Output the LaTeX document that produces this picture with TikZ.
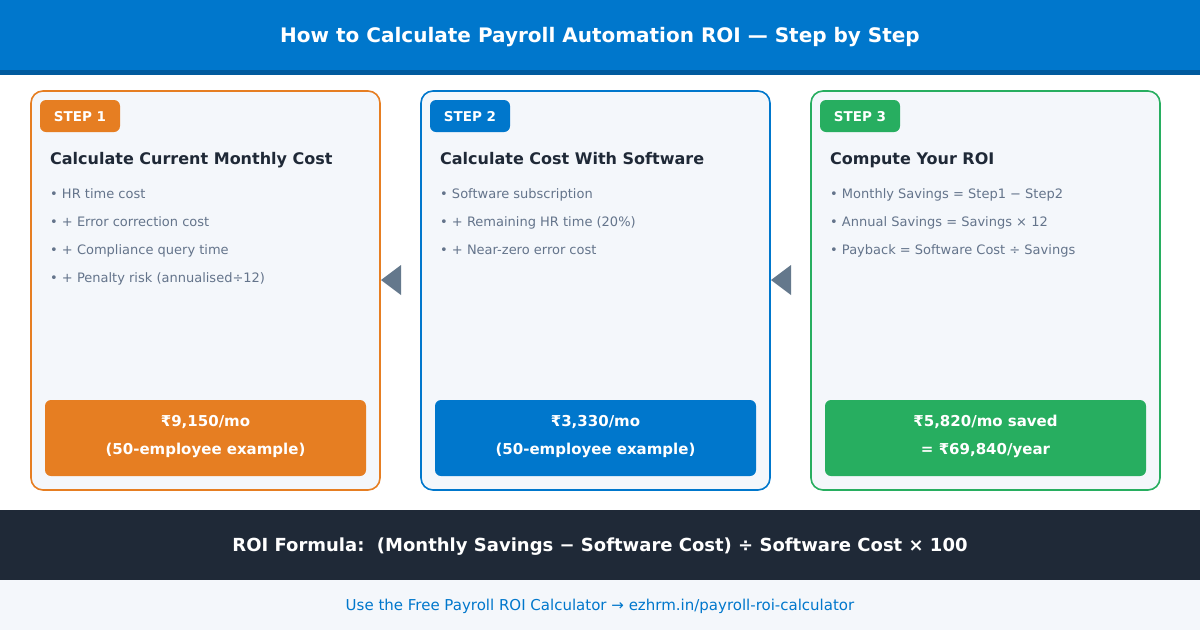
\documentclass[tikz,border=0pt]{standalone}
\usepackage{fontspec}
\setmainfont{DejaVu Sans}
\definecolor{hdrblue}{HTML}{0077CC}
\definecolor{hdrdark}{HTML}{005A9E}
\definecolor{orangec}{HTML}{E67E22}
\definecolor{greenc}{HTML}{27AE60}
\definecolor{cardfill}{HTML}{F4F7FB}
\definecolor{darktxt}{HTML}{1F2937}
\definecolor{graytxt}{HTML}{64748B}
\definecolor{arrowc}{HTML}{64788C}
\definecolor{footdark}{HTML}{1F2937}
\definecolor{footlight}{HTML}{F4F7FB}
\newcommand{\fsz}[1]{\fontsize{#1}{#1}\selectfont}
\tikzset{
  card/.style={draw=#1, line width=1.6pt, fill=cardfill, rounded corners=12pt, minimum width=349pt, minimum height=399pt, inner sep=0pt},
  badge/.style={fill=#1, rounded corners=6pt, minimum width=80pt, minimum height=32pt, inner sep=0pt},
  badgetxt/.style={anchor=base, inner sep=0pt, text=white, font=\fsz{13.5}\bfseries},
  ctitle/.style={anchor=base west, inner sep=0pt, text=darktxt, font=\fsz{16}\bfseries},
  bullet/.style={anchor=base west, inner sep=0pt, text=graytxt, font=\fsz{13}},
  result/.style={fill=#1, rounded corners=6pt, minimum width=321pt, minimum height=76pt, inner sep=0pt},
  restxt/.style={anchor=base, inner sep=0pt, text=white, font=\fsz{15}\bfseries},
  tri/.style={fill=arrowc, draw=none}
}
\begin{document}
\begin{tikzpicture}[x=1pt,y=-1pt]
\useasboundingbox (0,0) rectangle (1200,630);
\fill[white] (0,0) rectangle (1200,630);
% header
\fill[hdrblue] (0,0) rectangle (1200,70);
\fill[hdrdark] (0,70) rectangle (1200,75);
\node[anchor=base, inner sep=0pt, text=white, font=\fsz{20}\bfseries] (title) at (600,42) {How to Calculate Payroll Automation ROI — Step by Step};
% cards
\node[card=orangec] (c1) at (205.5,290.5) {};
\node[card=hdrblue] (c2) at (595.5,290.5) {};
\node[card=greenc] (c3) at (985.5,290.5) {};
% badges
\node[badge=orangec] (b1) at (80,116) {};
\node[badge=hdrblue] (b2) at (470,116) {};
\node[badge=greenc] (b3) at (860,116) {};
\node[badgetxt] (s1) at (80,121) {STEP 1};
\node[badgetxt] (s2) at (470,121) {STEP 2};
\node[badgetxt] (s3) at (860,121) {STEP 3};
% titles
\node[ctitle] (t1) at (50,164) {Calculate Current Monthly Cost};
\node[ctitle] (t2) at (440,164) {Calculate Cost With Software};
\node[ctitle] (t3) at (830,164) {Compute Your ROI};
% bullets
\node[bullet] (p11) at (50,198) {• HR time cost};
\node[bullet] (p12) at (50,226) {• + Error correction cost};
\node[bullet] (p13) at (50,254) {• + Compliance query time};
\node[bullet] (p14) at (50,282) {• + Penalty risk (annualised÷12)};
\node[bullet] (p21) at (440,198) {• Software subscription};
\node[bullet] (p22) at (440,226) {• + Remaining HR time (20\%)};
\node[bullet] (p23) at (440,254) {• + Near-zero error cost};
\node[bullet] (p31) at (830,198) {• Monthly Savings = Step1 − Step2};
\node[bullet] (p32) at (830,226) {• Annual Savings = Savings × 12};
\node[bullet] (p33) at (830,254) {• Payback = Software Cost ÷ Savings};
% results
\node[result=orangec] (r1) at (205.5,438) {};
\node[result=hdrblue] (r2) at (595.5,438) {};
\node[result=greenc] (r3) at (985.5,438) {};
\node[restxt] (r1a) at (205.5,426.5) {₹9,150/mo};
\node[restxt] (r1b) at (205.5,454.5) {(50-employee example)};
\node[restxt] (r2a) at (595.5,426.5) {₹3,330/mo};
\node[restxt] (r2b) at (595.5,454.5) {(50-employee example)};
\node[restxt] (r3a) at (985.5,426.5) {₹5,820/mo saved};
\node[restxt] (r3b) at (985.5,454.5) {= ₹69,840/year};
% arrows
\coordinate (a1) at (381,280);
\coordinate (a2) at (771,280);
\fill[tri] (a1) -- ++(20,-15) -- ++(0,30) -- cycle;
\fill[tri] (a2) -- ++(20,-15) -- ++(0,30) -- cycle;
% footer
\fill[footdark] (0,510) rectangle (1200,580);
\node[anchor=base, inner sep=0pt, text=white, font=\fsz{18}\bfseries] (formula) at (600,551.5) {ROI Formula:\ \ (Monthly Savings − Software Cost) ÷ Software Cost × 100};
\fill[footlight] (0,580) rectangle (1200,630);
\node[anchor=base, inner sep=0pt, text=hdrblue, font=\fsz{15}] (link) at (600,610.5) {Use the Free Payroll ROI Calculator → ezhrm.in/payroll-roi-calculator};
\end{tikzpicture}
\end{document}
